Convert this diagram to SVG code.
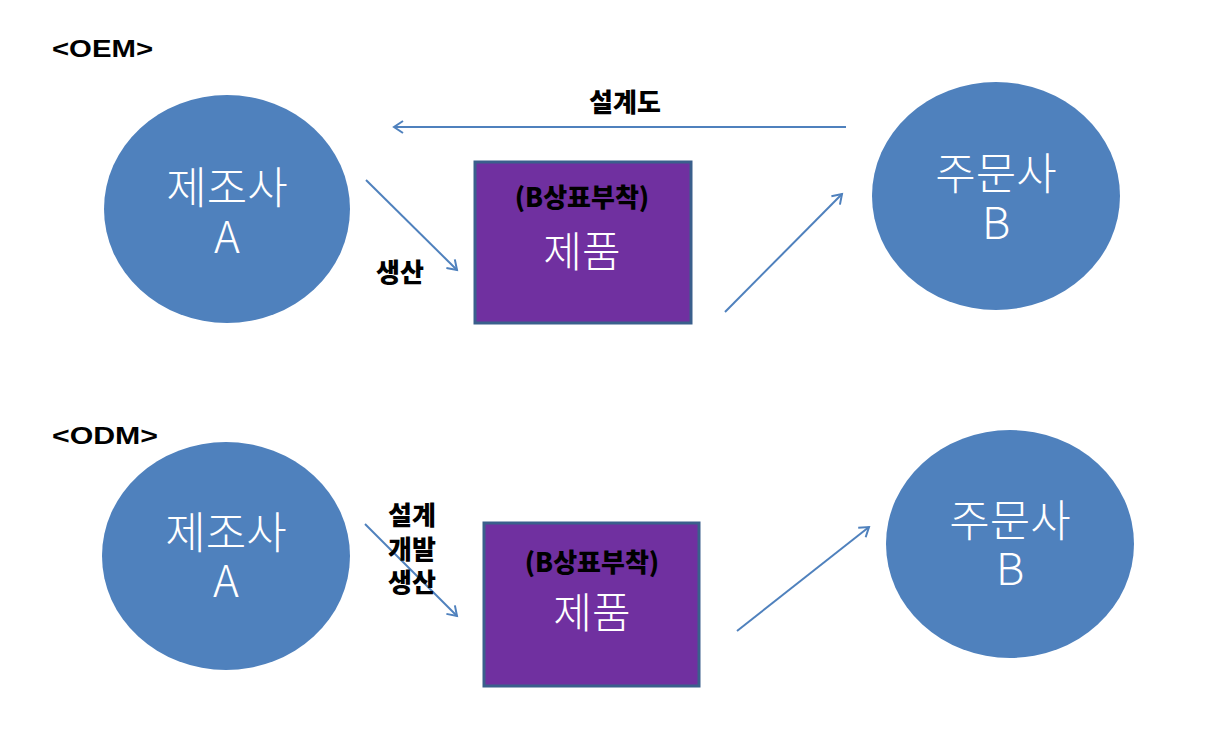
<svg xmlns="http://www.w3.org/2000/svg" width="1218" height="744" viewBox="0 0 1218 744">
<style>
.circ{fill:#4f81bd;}
.box{fill:#7030a0;stroke:#3a5f8c;stroke-width:3;}
.big{font-family:"Noto Sans CJK KR","Noto Sans",sans-serif;font-size:44px;font-weight:300;fill:#ffffff;text-anchor:middle;}
.prod{font-family:"Noto Sans CJK KR","Noto Sans",sans-serif;font-size:42px;font-weight:300;fill:#ffffff;text-anchor:middle;}
.lbl{font-family:"Noto Sans CJK KR","Noto Sans",sans-serif;font-size:26px;font-weight:900;fill:#000000;text-anchor:middle;}
.hdr{font-family:"Liberation Sans","Noto Sans CJK KR",sans-serif;font-size:24px;font-weight:bold;fill:#000000;}
.conn{stroke:#4f81bd;stroke-width:2;fill:none;marker-end:url(#arr);}
</style>
<defs>
<marker id="arr" markerWidth="14" markerHeight="14" refX="10" refY="7" orient="auto" markerUnits="userSpaceOnUse">
<path d="M1,1 L10,7 L1,13" fill="none" stroke="#4f81bd" stroke-width="2"/>
</marker>
</defs>
<text class="hdr" x="52" y="57" textLength="101" lengthAdjust="spacingAndGlyphs">&lt;OEM&gt;</text>
<text class="hdr" x="52" y="444" textLength="106" lengthAdjust="spacingAndGlyphs">&lt;ODM&gt;</text>
<g id="connectors">
<line class="conn" x1="846" y1="127" x2="394" y2="127"/>
<line class="conn" x1="366" y1="180" x2="457" y2="270"/>
<line class="conn" x1="725" y1="312" x2="842" y2="194"/>
<line class="conn" x1="365" y1="524" x2="457" y2="616"/>
<line class="conn" x1="737" y1="631" x2="869" y2="527"/>
<text class="lbl" x="625" y="112">설계도</text>
<text class="lbl" x="400" y="282">생산</text>
<text class="lbl" x="412" y="525">설계</text>
<text class="lbl" x="412" y="559">개발</text>
<text class="lbl" x="412" y="592">생산</text>
</g>
<g id="oem-maker">
<ellipse class="circ" cx="227" cy="209" rx="123" ry="114"/>
<text class="big" x="227" y="204">제조사</text>
<text class="big" x="227" y="253">A</text>
</g>
<g id="oem-client">
<ellipse class="circ" cx="996" cy="196" rx="124" ry="114"/>
<text class="big" x="996" y="190">주문사</text>
<text class="big" x="996" y="239">B</text>
</g>
<g id="oem-product">
<rect class="box" x="475" y="162" width="216" height="161"/>
<text class="lbl" x="582" y="207">(B상표부착)</text>
<text class="prod" x="582" y="267">제품</text>
</g>
<g id="odm-maker">
<ellipse class="circ" cx="226" cy="556" rx="124" ry="114"/>
<text class="big" x="226" y="549">제조사</text>
<text class="big" x="226" y="597">A</text>
</g>
<g id="odm-client">
<ellipse class="circ" cx="1010" cy="544" rx="124" ry="114"/>
<text class="big" x="1010" y="537">주문사</text>
<text class="big" x="1010" y="585">B</text>
</g>
<g id="odm-product">
<rect class="box" x="484" y="523" width="215" height="163"/>
<text class="lbl" x="592" y="572">(B상표부착)</text>
<text class="prod" x="592" y="628">제품</text>
</g>
</svg>
